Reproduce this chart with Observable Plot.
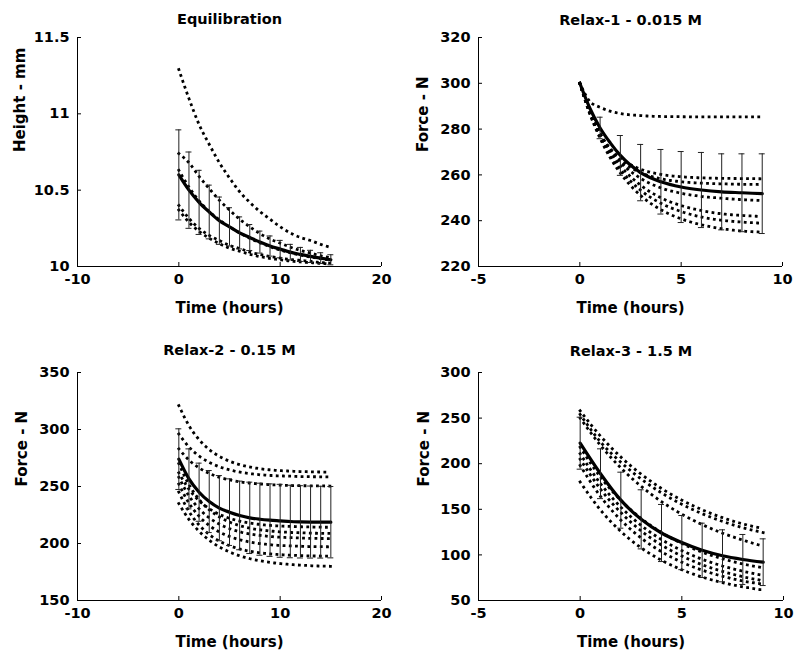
<!DOCTYPE html>
<html>
<head>
<meta charset="utf-8">
<script src="https://cdn.jsdelivr.net/npm/d3@7"></script>
<script src="https://cdn.jsdelivr.net/npm/@observablehq/plot@0.6"></script>
<style>
  html, body { margin: 0; padding: 0; background: #fff; }
  #wrap { position: relative; width: 800px; height: 665px; background: #fff; }
  #wrap > div { position: absolute; }
  svg { display: block; }
</style>
</head>
<body>
<div id="wrap">
  <div id="p1" style="left:0;top:0"></div>
  <div id="p2" style="left:400px;top:0"></div>
  <div id="p3" style="left:0;top:320px"></div>
  <div id="p4" style="left:400px;top:320px"></div>
</div>
<script>
// ---------- Panel 1: Equilibration ----------
const eqTitle = "Equilibration";
const eqYLabel = "Height - mm";
const eqXTicks = [-10, 0, 10, 20];
const eqYTicks = [10, 10.5, 11, 11.5];
const eqT = [0, 1, 2, 3, 4, 5, 6, 7, 8, 9, 10, 11, 12, 13, 14, 15];
const eqMean = [10.60, 10.50, 10.42, 10.357, 10.30, 10.26, 10.22, 10.19, 10.16, 10.134, 10.114, 10.094, 10.079, 10.066, 10.055, 10.044];
const eqSd = [0.295, 0.25, 0.21, 0.176, 0.155, 0.125, 0.105, 0.085, 0.072, 0.066, 0.057, 0.051, 0.046, 0.04, 0.035, 0.033];
const eqA = [11.29, 11.10, 10.93, 10.80, 10.68, 10.58, 10.49, 10.42, 10.36, 10.31, 10.26, 10.22, 10.19, 10.17, 10.145, 10.125];
const eqB = [10.74, 10.68, 10.59, 10.51, 10.434, 10.37, 10.31, 10.26, 10.215, 10.18, 10.153, 10.127, 10.105, 10.088, 10.07, 10.057];
const eqC = [10.63, 10.52, 10.43, 10.36, 10.305, 10.26, 10.22, 10.185, 10.155, 10.13, 10.108, 10.09, 10.075, 10.062, 10.051, 10.042];
const eqD = [10.40, 10.315, 10.25, 10.204, 10.17, 10.138, 10.118, 10.094, 10.079, 10.066, 10.055, 10.046, 10.04, 10.033, 10.026, 10.022];
const eqE = [10.37, 10.29, 10.23, 10.185, 10.15, 10.12, 10.10, 10.08, 10.065, 10.053, 10.044, 10.036, 10.03, 10.025, 10.02, 10.017];

// ---------- Panel 2: Relax-1 - 0.015 M ----------
const r1Title = "Relax-1 - 0.015 M";
const r1YLabel = "Force - N";
const r1XTicks = [-5, 0, 5, 10];
const r1YTicks = [220, 240, 260, 280, 300, 320];
const r1T = [0, 0.5, 1, 1.5, 2, 3, 4, 5, 6, 7, 8, 9];
const r1Mean = [300, 289, 280.5, 274, 268.5, 261, 257, 254.7, 253.4, 252.6, 252.2, 251.8];
const r1ErrT = [0, 1, 2, 3, 4, 5, 6, 7, 8, 9];
const r1Sd = [0, 4.7, 8.7, 12.3, 14.1, 15.5, 16.4, 16.6, 17, 17.4];
const r1A = [300, 292, 289.5, 287.8, 286.8, 285.9, 285.5, 285.4, 285.3, 285.3, 285.3, 285.3];
const r1B = [300, 288, 277.6, 271.5, 267.3, 262.5, 260.2, 259.2, 258.7, 258.5, 258.4, 258.3];
const r1C = [300, 286.7, 277.5, 271, 266.4, 261, 258.3, 257, 256.4, 256.1, 255.9, 255.8];
const r1D = [300, 287.6, 278.2, 271.1, 265.6, 258.5, 254.3, 252, 250.6, 249.8, 249.2, 248.8];
const r1E = [300, 287.5, 277.8, 270, 264, 255.5, 250, 246.6, 244.4, 243, 242.3, 241.8];
const r1F = [300, 287, 276.8, 268.7, 262.3, 253.3, 247.6, 244, 241.6, 240.2, 239.4, 238.9];
const r1G = [300, 286.5, 276, 267.5, 260.8, 251, 244.8, 240.8, 238.2, 236.5, 235.5, 235];

// ---------- Panel 3: Relax-2 - 0.15 M ----------
const r2Title = "Relax-2 - 0.15 M";
const r2YLabel = "Force - N";
const r2XTicks = [-10, 0, 10, 20];
const r2YTicks = [150, 200, 250, 300, 350];
const r2T = [0, 1, 2, 3, 4, 5, 6, 7, 8, 9, 10, 11, 12, 13, 14, 15];
const r2Mean = [274, 256.7, 245, 236.8, 231, 227.5, 224.6, 222.5, 221.3, 220.5, 219.9, 219.3, 219, 218.8, 218.7, 218.7];
const r2Sd = [26.6, 26.3, 25.5, 27.2, 28.6, 29.2, 30.1, 31.3, 31.6, 31.8, 32, 31.8, 31.7, 31.6, 31.5, 31.3];
const r2A = [321, 303.4, 291.1, 282.4, 276.4, 272.2, 269.2, 267.1, 265.6, 264.6, 263.9, 263.5, 263.1, 262.9, 262.7, 262.6];
const r2B = [296, 284.7, 276.7, 271.2, 267.3, 264.6, 262.6, 261.3, 260.4, 259.7, 259.3, 259, 258.7, 258.6, 258.5, 258.4];
const r2C = [283, 273.2, 266.3, 261.5, 258.1, 255.8, 254.1, 253, 252.2, 251.6, 251.2, 250.9, 250.7, 250.6, 250.5, 250.4];
const r2D = [270, 251.6, 238.6, 229.6, 223.3, 218.8, 215.7, 213.5, 212, 211, 210.2, 209.7, 209.4, 209.1, 208.9, 208.8];
const r2E = [262, 247.6, 237.5, 230.5, 225.5, 222.1, 219.6, 217.9, 216.7, 215.9, 215.3, 215, 214.7, 214.5, 214.3, 214.2];
const r2F = [258, 241.8, 230.5, 222.5, 217, 213.1, 210.3, 208.4, 207.1, 206.2, 205.5, 205.1, 204.8, 204.5, 204.4, 204.3];
const r2G = [252, 235.4, 223.9, 215.8, 210.1, 206.1, 203.3, 201.3, 199.9, 199, 198.3, 197.9, 197.6, 197.3, 197.2, 197.1];
const r2H = [245, 228.1, 216.2, 207.9, 202.1, 198.1, 195.2, 193.2, 191.8, 190.9, 190.2, 189.8, 189.4, 189.1, 189, 188.9];
const r2I = [235, 221.1, 210.7, 202.9, 197, 192.6, 189.2, 186.7, 184.9, 183.4, 182.4, 181.6, 181, 180.5, 180.2, 180];

// ---------- Panel 4: Relax-3 - 1.5 M ----------
const r3Title = "Relax-3 - 1.5 M";
const r3YLabel = "Force - N";
const r3XTicks = [-5, 0, 5, 10];
const r3YTicks = [50, 100, 150, 200, 250, 300];
const r3T = [0, 1, 2, 3, 4, 5, 6, 7, 8, 9];
const r3Mean = [222.5, 189, 160, 139, 124, 113.5, 105, 99, 95, 92];
const r3Sd = [28.5, 27.3, 30.7, 32.4, 31.3, 29.7, 29.8, 28.5, 27.4, 25.6];
const r3A = [258, 230.2, 207.3, 188.5, 172.8, 160, 149.5, 140.8, 134, 129];
const r3B = [254, 223.9, 201.6, 183.2, 168, 155.5, 145.2, 136.7, 129.8, 124.5];
const r3C = [250, 220.1, 195.4, 175.2, 158.4, 144.6, 133.2, 123.9, 116.2, 109.5];
const r3D = [218, 185.3, 159.8, 139.9, 124.5, 112.5, 103, 95.8, 90, 86];
const r3E = [211, 178.1, 152.4, 132.3, 116.8, 104.8, 95.2, 87.9, 82.1, 77.6];
const r3F = [205, 172.1, 146.4, 126.3, 110.8, 98.8, 89.2, 81.9, 76.1, 71.8];
const r3G = [198, 164.1, 138.2, 118.5, 103.5, 92, 83.3, 76.6, 71.4, 68];
const r3H = [180, 149.2, 125.7, 107.7, 94.1, 83.7, 75.7, 69.6, 65, 61.4];

const XLABEL = "Time (hours)";
const FONT = "DejaVu Sans, Liberation Sans, Arial, sans-serif";

function panel(o) {
  const xd = [o.xTicks[0], o.xTicks[o.xTicks.length - 1]];
  const yd = [o.yTicks[0], o.yTicks[o.yTicks.length - 1]];
  const lines = o.curves.flatMap((c, k) => c.map((v, i) => ({t: o.t[i], v, k})));
  const meanData = o.mean.map((v, i) => ({t: o.t[i], v}));
  const errT = o.errT || o.t;
  const err = errT.map((t, i) => {
    const j = o.t.indexOf(t);
    return {t, lo: o.mean[j] - o.sd[i], hi: o.mean[j] + o.sd[i]};
  }).filter(d => d.hi > d.lo);
  return Plot.plot({
    width: 400,
    height: o.height,
    marginTop: o.mt, marginBottom: o.mb, marginLeft: o.ml, marginRight: o.mr,
    style: {fontFamily: FONT, fontWeight: "bold", fontSize: "15px", color: "#000", background: "#fff", overflow: "visible"},
    x: {domain: xd, label: null},
    y: {domain: yd, label: null},
    marks: [
      Plot.ruleX([xd[0]], {stroke: "#000", strokeWidth: 1}),
      Plot.ruleY([yd[0]], {stroke: "#000", strokeWidth: 1}),
      Plot.ruleY(o.yTicks, {y: d => d, x1: () => xd[0], x2: () => xd[0], insetRight: -4, stroke: "#000"}),
      Plot.ruleX(o.xTicks, {x: d => d, y1: () => yd[0], y2: () => yd[0], insetTop: -4, stroke: "#000"}),
      Plot.axisX({ticks: o.xTicks, tickSize: 0, tickPadding: 7, tickFormat: d => String(d), fontSize: 14.5, fontWeight: "bold", label: null}),
      Plot.axisY({ticks: o.yTicks, tickSize: 0, tickPadding: 8, tickFormat: d => String(d), fontSize: 14.5, fontWeight: "bold", label: null}),
      // dotted individual curves (square dots)
      Plot.line(lines, {x: "t", y: "v", z: "k", curve: "monotone-x", stroke: "#000", strokeWidth: 2.8, strokeLinecap: "square", strokeDasharray: "0.01,6.2"}),
      // mean curve
      Plot.line(meanData, {x: "t", y: "v", curve: "monotone-x", stroke: "#000", strokeWidth: 3.2}),
      // error bars
      Plot.ruleX(err, {x: "t", y1: "lo", y2: "hi", stroke: "#222", strokeWidth: 1}),
      Plot.ruleY(err, {y: "hi", x1: "t", x2: "t", insetLeft: -3, insetRight: -3, stroke: "#222", strokeWidth: 1}),
      Plot.ruleY(err, {y: "lo", x1: "t", x2: "t", insetLeft: -3, insetRight: -3, stroke: "#222", strokeWidth: 1}),
      Plot.text([o.title], {frameAnchor: "top", lineAnchor: "middle", dy: o.titleDy, fontSize: 14.5, fontWeight: "bold", fill: "#000"}),
      Plot.text([XLABEL], {frameAnchor: "bottom", lineAnchor: "bottom", dy: 46, fontSize: 15, fontWeight: "bold", fill: "#000"}),
      Plot.text([o.yLabel], {frameAnchor: "left", lineAnchor: "middle", rotate: -90, dx: o.ylDx, fontSize: 15, fontWeight: "bold", fill: "#000"})
    ]
  });
}

document.getElementById("p1").appendChild(panel({
  title: eqTitle, yLabel: eqYLabel, xTicks: eqXTicks, yTicks: eqYTicks,
  t: eqT, mean: eqMean, sd: eqSd, curves: [eqA, eqB, eqC, eqD, eqE],
  height: 320, mt: 37, mb: 54, ml: 77, mr: 19, titleDy: -18, ylDx: -57
}));
document.getElementById("p2").appendChild(panel({
  title: r1Title, yLabel: r1YLabel, xTicks: r1XTicks, yTicks: r1YTicks,
  t: r1T, mean: r1Mean, errT: r1ErrT, sd: r1Sd, curves: [r1A, r1B, r1C, r1D, r1E, r1F, r1G],
  height: 320, mt: 37, mb: 54, ml: 78, mr: 18, titleDy: -17, ylDx: -55
}));
document.getElementById("p3").appendChild(panel({
  title: r2Title, yLabel: r2YLabel, xTicks: r2XTicks, yTicks: r2YTicks,
  t: r2T, mean: r2Mean, sd: r2Sd, curves: [r2A, r2B, r2C, r2D, r2E, r2F, r2G, r2H, r2I],
  height: 345, mt: 52, mb: 65, ml: 77, mr: 19, titleDy: -22, ylDx: -55
}));
document.getElementById("p4").appendChild(panel({
  title: r3Title, yLabel: r3YLabel, xTicks: r3XTicks, yTicks: r3YTicks,
  t: r3T, mean: r3Mean, sd: r3Sd, curves: [r3A, r3B, r3C, r3D, r3E, r3F, r3G, r3H],
  height: 345, mt: 52, mb: 65, ml: 78, mr: 17, titleDy: -21.5, ylDx: -54
}));
</script>
</body>
</html>
